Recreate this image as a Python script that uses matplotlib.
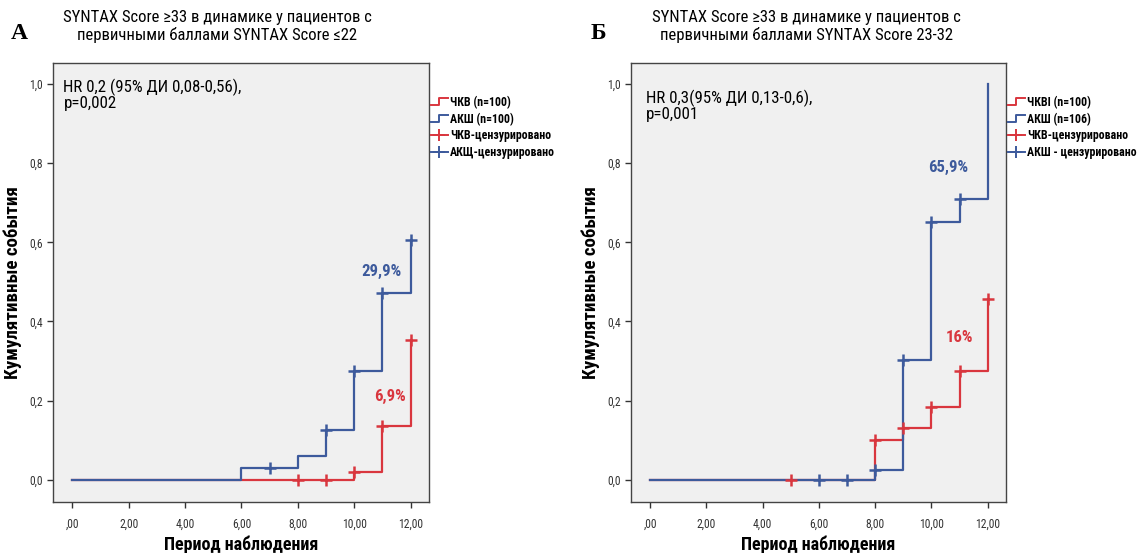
import os
import matplotlib
matplotlib.use("Agg")
import matplotlib.pyplot as plt
from matplotlib import font_manager as fm
from matplotlib.font_manager import FontProperties
from matplotlib.lines import Line2D
from matplotlib.legend_handler import HandlerBase

# Panel A: baseline SYNTAX <=22
a_pci_t = [0, 10, 11, 12]
a_pci_v = [0, 0.021, 0.135, 0.354]
a_cabg_t = [0, 6, 8, 9, 10, 11, 12]
a_cabg_v = [0, 0.030, 0.061, 0.125, 0.274, 0.471, 0.606]
a_pci_cens_t = [8, 9, 10, 11, 12]
a_pci_cens_v = [0, 0, 0.021, 0.135, 0.354]
a_cabg_cens_t = [7, 9, 10, 11, 12]
a_cabg_cens_v = [0.030, 0.125, 0.274, 0.471, 0.606]

# Panel B: baseline SYNTAX 23-32
b_pci_t = [0, 8, 9, 10, 11, 12]
b_pci_v = [0, 0.101, 0.130, 0.184, 0.275, 0.456]
b_cabg_t = [0, 8, 9, 10, 11, 12]
b_cabg_v = [0, 0.025, 0.302, 0.650, 0.709, 1.0]
b_pci_cens_t = [5, 8, 9, 10, 11, 12]
b_pci_cens_v = [0, 0.101, 0.130, 0.184, 0.275, 0.456]
b_cabg_cens_t = [6, 7, 8, 9, 10, 11]
b_cabg_cens_v = [0, 0, 0.025, 0.302, 0.650, 0.709]

x_ticks = [0, 2, 4, 6, 8, 10, 12]
x_labels = [",00", "2,00", "4,00", "6,00", "8,00", "10,00", "12,00"]
y_ticks = [0, 0.2, 0.4, 0.6, 0.8, 1.0]
y_labels = ["0,0", "0,2", "0,4", "0,6", "0,8", "1,0"]

RED = "#d9363e"
BLUE = "#3d5a9c"


# the original uses Arial Narrow; take the closest narrow face that is installed
def find_file(keys, bold):
    files = []
    for f in fm.fontManager.ttflist:
        fn = os.path.basename(f.fname).lower().replace("_", "").replace("-", "")
        if "italic" in fn or "oblique" in fn:
            continue
        if ("bold" in fn) != bold:
            continue
        if not bold and any(w in fn for w in ["light", "thin", "medium", "black", "semi", "extra"]):
            continue
        files.append((fn, f.fname))
    for key in keys:
        for fn, path in files:
            if key in fn:
                return path
    return None


narrow_keys = ["liberationsansnarrow", "arialnarrow", "robotocondensed", "dejavusanscondensed"]
reg_file = find_file(narrow_keys, False)
bold_file = find_file(narrow_keys, True)
have_narrow = reg_file is not None and bold_file is not None


def fp(size, bold=False):
    if have_narrow:
        return FontProperties(fname=bold_file if bold else reg_file, size=size)
    return FontProperties(family=["Liberation Sans", "DejaVu Sans"], size=size,
                          weight="bold" if bold else "normal")


fig = plt.figure(figsize=(11.44, 5.53), dpi=100)
renderer = fig.canvas.get_renderer()


def sized(s, target_px, bold=False):
    # font size that makes string s about target_px wide
    t = fig.text(0, 0, s, fontproperties=fp(10, bold))
    w = t.get_window_extent(renderer).width
    t.remove()
    return fp(10 * target_px / w, bold)


f_title = sized("SYNTAX Score ≥33 в динамике у пациентов с", 308)
f_hr = sized("HR 0,2 (95% ДИ 0,08-0,56),", 178)
f_ann = sized("29,9%", 40, True)
f_leg = sized("АКШ - цензурировано", 110, True)
f_ylab = sized("Кумулятивные события", 193, True)
f_xlab = sized("Период наблюдения", 155, True)
f_tick = sized("10,00", 25)


class HandlerStep(HandlerBase):
    def create_artists(self, legend, orig_handle, xdescent, ydescent,
                       width, height, fontsize, trans):
        x0, y0 = -xdescent, -ydescent
        xs = [x0, x0 + 0.5 * width, x0 + 0.5 * width, x0 + width]
        ys = [y0 + 0.05 * height, y0 + 0.05 * height, y0 + 0.95 * height, y0 + 0.95 * height]
        ln = Line2D(xs, ys, color=orig_handle.get_color(), lw=1.4, transform=trans)
        return [ln]


def draw_panel(ax, pci, cabg, pci_c, cabg_c):
    ax.set_facecolor("#f0f0f0")
    ax.step(pci[0], pci[1], where="post", color=RED, lw=1.6, zorder=2)
    ax.step(cabg[0], cabg[1], where="post", color=BLUE, lw=1.6, zorder=3)
    ax.plot(pci_c[0], pci_c[1], ls="none", marker="+", ms=9, mew=1.8, color=RED, zorder=4)
    ax.plot(cabg_c[0], cabg_c[1], ls="none", marker="+", ms=9, mew=1.8, color=BLUE, zorder=4)
    ax.set_xlim(-0.68, 12.65)
    ax.set_ylim(-0.056, 1.053)
    ax.set_xticks(x_ticks)
    ax.set_xticklabels(x_labels, fontproperties=f_tick, color="#333333")
    ax.set_yticks(y_ticks)
    ax.set_yticklabels(y_labels, fontproperties=f_tick, color="#333333")
    ax.tick_params(direction="out", length=4, width=1, color="#333333")
    ax.tick_params(axis="x", pad=7)
    for s in ax.spines.values():
        s.set_color("#444444")
        s.set_linewidth(1.0)
    ax.set_xlabel("Период наблюдения", fontproperties=f_xlab, labelpad=4)
    ax.set_ylabel("Кумулятивные события", fontproperties=f_ylab, labelpad=5)


ax1 = fig.add_axes([0.0463, 0.0922, 0.3287, 0.794])
ax2 = fig.add_axes([0.5516, 0.0922, 0.3278, 0.794])

draw_panel(ax1, (a_pci_t, a_pci_v), (a_cabg_t, a_cabg_v),
           (a_pci_cens_t, a_pci_cens_v), (a_cabg_cens_t, a_cabg_cens_v))
draw_panel(ax2, (b_pci_t, b_pci_v), (b_cabg_t, b_cabg_v),
           (b_pci_cens_t, b_pci_cens_v), (b_cabg_cens_t, b_cabg_cens_v))

fig.text(217 / 1144, 1 - 10 / 553,
         "SYNTAX Score ≥33 в динамике у пациентов с\nпервичными баллами SYNTAX Score ≤22",
         ha="center", va="top", fontproperties=f_title, linespacing=1.15)
fig.text(806 / 1144, 1 - 10 / 553,
         "SYNTAX Score ≥33 в динамике у пациентов с\nпервичными баллами SYNTAX Score 23-32",
         ha="center", va="top", fontproperties=f_title, linespacing=1.15)

ax1.text(0.028, 0.965, "HR 0,2 (95% ДИ 0,08-0,56),\np=0,002", transform=ax1.transAxes,
         va="top", ha="left", fontproperties=f_hr, linespacing=1.05)
ax2.text(0.04, 0.94, "HR 0,3(95% ДИ 0,13-0,6),\np=0,001", transform=ax2.transAxes,
         va="top", ha="left", fontproperties=f_hr, linespacing=1.05)

ax1.text(10.96, 0.526, "29,9%", color=BLUE, fontproperties=f_ann, ha="center", va="center")
ax1.text(11.25, 0.21, "6,9%", color=RED, fontproperties=f_ann, ha="center", va="center")
ax2.text(10.59, 0.79, "65,9%", color=BLUE, fontproperties=f_ann, ha="center", va="center")
ax2.text(11.0, 0.36, "16%", color=RED, fontproperties=f_ann, ha="center", va="center")

fig.text(0.009, 0.93, "А", family=["Liberation Serif", "DejaVu Serif"], fontsize=17, fontweight="bold")
fig.text(0.516, 0.93, "Б", family=["Liberation Serif", "DejaVu Serif"], fontsize=17, fontweight="bold")

legend_sets = [
    (ax1, ["ЧКВ (n=100)", "АКШ (n=100)", "ЧКВ-цензурировано", "АКЩ-цензурировано"]),
    (ax2, ["ЧКВI (n=100)", "АКШ (n=106)", "ЧКВ-цензурировано", "АКШ - цензурировано"]),
]
for ax, labels in legend_sets:
    h_red = Line2D([0], [0], color=RED, lw=1.4)
    h_blue = Line2D([0], [0], color=BLUE, lw=1.4)
    c_red = Line2D([0], [0], color=RED, lw=1.4, marker="+", ms=9, mew=1.4)
    c_blue = Line2D([0], [0], color=BLUE, lw=1.4, marker="+", ms=9, mew=1.4)
    ax.legend([h_red, h_blue, c_red, c_blue], labels,
              handler_map={h_red: HandlerStep(), h_blue: HandlerStep()},
              loc="upper left", bbox_to_anchor=(1.004, 0.925), frameon=False,
              prop=f_leg, handlelength=1.5, handleheight=0.6,
              handletextpad=0.15, labelspacing=0.3, borderaxespad=0,
              borderpad=0, numpoints=1)

fig.savefig("out.png", dpi=100)
